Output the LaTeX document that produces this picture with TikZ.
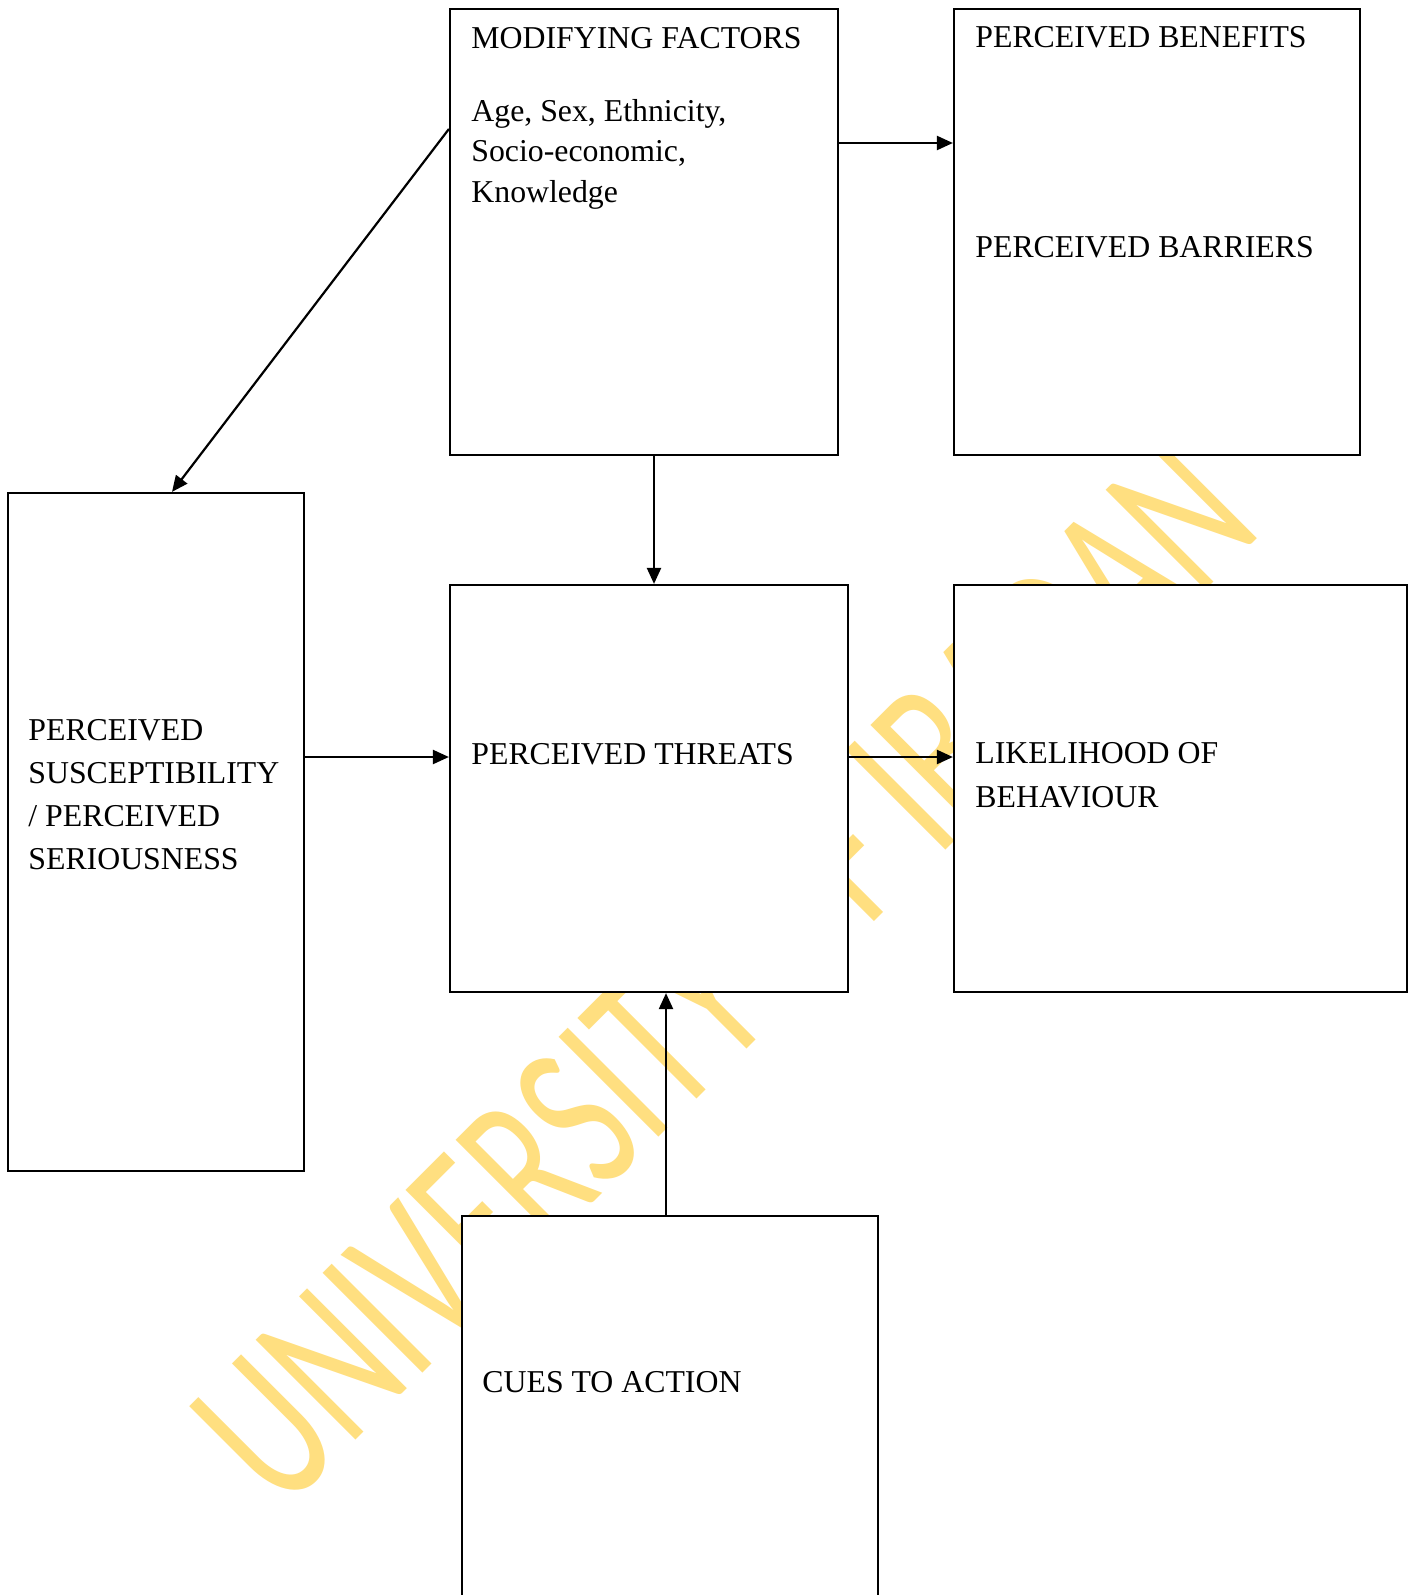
\documentclass[tikz,border=0pt]{standalone}
\usepackage{fontspec}
\setmainfont{Liberation Serif}
\newfontfamily\wmfont{Carlito}
\usetikzlibrary{arrows.meta}
\definecolor{wmyellow}{RGB}{255,223,128}

\tikzset{
  box/.style={shape=rectangle, draw, fill=white, line width=1.1pt, inner sep=0pt},
  lbl/.style={anchor=base west, inner sep=0pt, align=left, font=\fontsize{15.9}{21.5}\selectfont},
  arr/.style={-{Triangle[length=8pt,width=7pt]}, line width=1.1pt},
  wmark/.style={anchor=base west, inner sep=0pt, rotate=45, xscale=0.66, text=wmyellow, font=\wmfont\fontsize{110}{110}\selectfont}
}

\begin{document}
\begin{tikzpicture}[x=0.5pt, y=-0.5pt]
  \path[use as bounding box, fill=white] (0,0) rectangle (1413,1595);
  \clip (0,0) rectangle (1413,1595);

  % watermark
  \node[wmark] (wm) at (282,1514) {UNIVERSITY OF IBADAN};

  % top row
  \node[box, minimum width=194pt, minimum height=223pt] (mod) at (644,232) {};
  \node[box, minimum width=203pt, minimum height=223pt] (ben) at (1157,232) {};
  \node[lbl] (modt) at (471,49) {MODIFYING FACTORS};
  \node[lbl, font=\fontsize{15.9}{20.25}\selectfont] (modl) at (471,202) {Age, Sex, Ethnicity,\\Socio-economic,\\Knowledge};
  \node[lbl] (bent) at (975,48) {PERCEIVED BENEFITS};
  \node[lbl] (bart) at (975,257) {PERCEIVED BARRIERS};

  % middle row
  \node[box, minimum width=148pt, minimum height=339pt] (sus) at (156,832) {};
  \node[box, minimum width=199pt, minimum height=203.5pt] (thr) at (649,788.5) {};
  \node[box, minimum width=226.5pt, minimum height=203.5pt] (lik) at (1180.5,788.5) {};
  \node[lbl] (sust) at (28,869) {PERCEIVED\\SUSCEPTIBILITY\\/ PERCEIVED\\SERIOUSNESS};
  \node[lbl] (thrt) at (471,764) {PERCEIVED THREATS};
  \node[lbl, font=\fontsize{15.9}{22}\selectfont] (likt) at (975,807) {LIKELIHOOD OF\\BEHAVIOUR};

  % bottom
  \node[box, minimum width=208pt, minimum height=212pt] (cue) at (670,1428) {};
  \node[lbl] (cuet) at (482,1392) {CUES TO ACTION};

  % arrows
  \draw[arr] (mod.west |- 0,129) -- (sus.north -| 172,0);
  \draw[arr] (mod.east |- 0,143) -- (ben.west |- 0,143);
  \draw[arr] (mod.south -| 654,0) -- (thr.north -| 654,0);
  \draw[arr] (sus.east |- 0,757) -- (thr.west |- 0,757);
  \draw[arr] (thr.east |- 0,757) -- (lik.west |- 0,757);
  \draw[arr] (cue.north -| 666,0) -- (thr.south -| 666,0);
\end{tikzpicture}
\end{document}
